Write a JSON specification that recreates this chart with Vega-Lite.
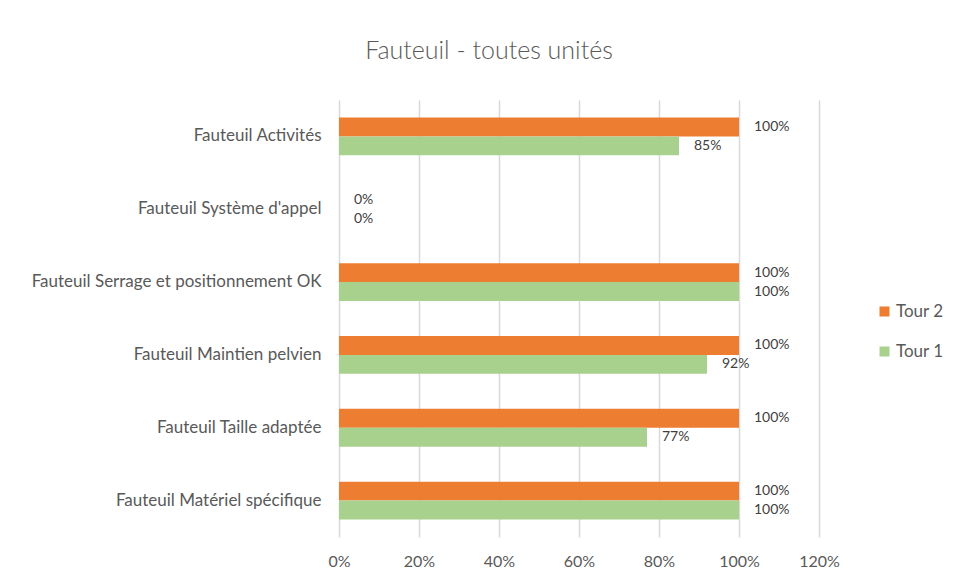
{
  "$schema": "https://vega.github.io/schema/vega-lite/v6.json",
  "autosize": {"type": "none"},
  "width": 480,
  "height": 437,
  "padding": {"left": 339, "top": 100, "right": 136, "bottom": 44},
  "background": "white",
  "title": {"text": "Fauteuil - toutes unités", "fontSize": 25, "font": "Lato", "fontWeight": 300, "color": "#595959", "anchor": "middle", "dx": -90, "offset": 36},
  "config": {"view": {"stroke": null}, "font": "Lato"},
  "data": {"values": [
    {"category": "Fauteuil Activités", "series": "Tour 2", "value": 1.0},
    {"category": "Fauteuil Activités", "series": "Tour 1", "value": 0.85},
    {"category": "Fauteuil Système d'appel", "series": "Tour 2", "value": 0},
    {"category": "Fauteuil Système d'appel", "series": "Tour 1", "value": 0},
    {"category": "Fauteuil Serrage et positionnement OK", "series": "Tour 2", "value": 1.0},
    {"category": "Fauteuil Serrage et positionnement OK", "series": "Tour 1", "value": 1.0},
    {"category": "Fauteuil Maintien pelvien", "series": "Tour 2", "value": 1.0},
    {"category": "Fauteuil Maintien pelvien", "series": "Tour 1", "value": 0.92},
    {"category": "Fauteuil Taille adaptée", "series": "Tour 2", "value": 1.0},
    {"category": "Fauteuil Taille adaptée", "series": "Tour 1", "value": 0.77},
    {"category": "Fauteuil Matériel spécifique", "series": "Tour 2", "value": 1.0},
    {"category": "Fauteuil Matériel spécifique", "series": "Tour 1", "value": 1.0}
  ]},
  "encoding": {
    "y": {"field": "category", "type": "nominal", "sort": null,
      "scale": {"paddingInner": 0.48, "paddingOuter": 0.24},
      "axis": {"title": null, "domain": false, "ticks": false, "labelPadding": 18, "labelFontSize": 17, "labelColor": "#595959", "labelFont": "Lato", "labelLimit": 400}},
    "yOffset": {"field": "series", "type": "nominal", "sort": ["Tour 2", "Tour 1"]}
  },
  "layer": [
    {
      "mark": {"type": "bar"},
      "encoding": {
        "x": {"field": "value", "type": "quantitative",
          "scale": {"domain": [0, 1.2], "nice": false},
          "axis": {"title": null, "format": ".0%", "values": [0, 0.2, 0.4, 0.6, 0.8, 1.0, 1.2], "domain": false, "ticks": false, "grid": true, "gridColor": "#d9d9d9", "gridWidth": 1.5, "labelFlush": false, "labelFontSize": 16, "labelColor": "#595959", "labelPadding": 16, "labelFont": "Lato"}},
        "color": {"field": "series", "type": "nominal",
          "scale": {"domain": ["Tour 2", "Tour 1"], "range": ["#ED7D31", "#A9D18E"]},
          "legend": {"title": null, "orient": "none", "legendX": 537, "legendY": 203, "symbolType": "square", "symbolSize": 100, "symbolStrokeWidth": 0, "labelFontSize": 17, "labelColor": "#595959", "rowPadding": 22, "labelOffset": 3, "labelFont": "Lato"}}
      }
    },
    {
      "mark": {"type": "text", "align": "left", "baseline": "middle", "dx": 15, "fontSize": 14, "color": "#404040", "font": "Lato"},
      "encoding": {
        "x": {"field": "value", "type": "quantitative"},
        "text": {"field": "value", "type": "quantitative", "format": ".0%"}
      }
    }
  ]
}
